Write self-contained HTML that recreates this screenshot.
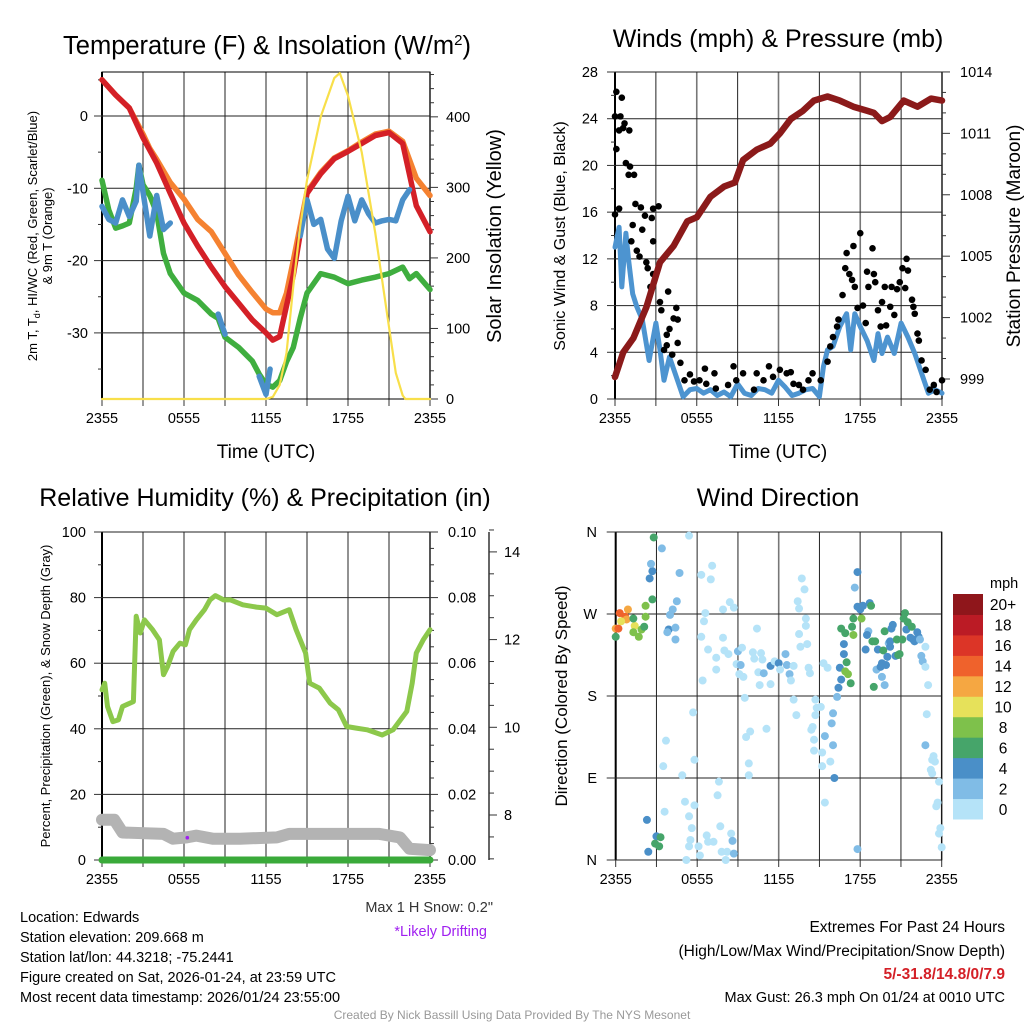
<!DOCTYPE html>
<html><head><meta charset="utf-8"><style>
html,body{margin:0;padding:0;background:#fff;}
svg{display:block;font-family:"Liberation Sans",sans-serif;}
</style></head><body>
<svg id="c" width="1024" height="1024" viewBox="0 0 1024 1024">
<rect width="1024" height="1024" fill="#fff"/>
<text x="267" y="54" font-size="25.5" text-anchor="middle">Temperature (F) &amp; Insolation (W/m<tspan dy="-9" font-size="15">2</tspan><tspan dy="9">)</tspan></text>
<text x="778" y="47" font-size="25" text-anchor="middle">Winds (mph) &amp; Pressure (mb)</text>
<text x="265" y="506" font-size="25" text-anchor="middle">Relative Humidity (%) &amp; Precipitation (in)</text>
<text x="778" y="506" font-size="25" text-anchor="middle">Wind Direction</text>
<text x="266" y="458" font-size="19" text-anchor="middle">Time (UTC)</text>
<text x="778" y="458" font-size="19" text-anchor="middle">Time (UTC)</text>
<text transform="translate(37,236) rotate(-90)" font-size="13" text-anchor="middle">2m T, T<tspan dy="3" font-size="9">d</tspan><tspan dy="-3">, HI/WC (Red, Green, Scarlet/Blue)</tspan></text>
<text transform="translate(52,236) rotate(-90)" font-size="13" text-anchor="middle">&amp; 9m T (Orange)</text>
<text transform="translate(501,236) rotate(-90)" font-size="20" text-anchor="middle">Solar Insolation (Yellow)</text>
<text transform="translate(565,236) rotate(-90)" font-size="16" text-anchor="middle">Sonic Wind &amp; Gust (Blue, Black)</text>
<text transform="translate(1020,236) rotate(-90)" font-size="19" text-anchor="middle">Station Pressure (Maroon)</text>
<text transform="translate(50,696) rotate(-90)" font-size="13" text-anchor="middle">Percent, Precipitation (Green), &amp; Snow Depth (Gray)</text>
<text transform="translate(567,696) rotate(-90)" font-size="17" text-anchor="middle">Direction (Colored By Speed)</text>
<g font-size="14.5">
<text x="20" y="922">Location: Edwards</text>
<text x="20" y="942">Station elevation: 209.668 m</text>
<text x="20" y="962">Station lat/lon: 44.3218; -75.2441</text>
<text x="20" y="982">Figure created on Sat, 2026-01-24, at 23:59 UTC</text>
<text x="20" y="1002">Most recent data timestamp: 2026/01/24 23:55:00</text>
</g>
<text x="493" y="912" font-size="14.5" text-anchor="end" fill="#333">Max 1 H Snow: 0.2"</text>
<text x="487" y="936" font-size="14.5" text-anchor="end" fill="#a020f0">*Likely Drifting</text>
<g font-size="15.5" text-anchor="end">
<text x="1005" y="932">Extremes For Past 24 Hours</text>
<text x="1005" y="956">(High/Low/Max Wind/Precipitation/Snow Depth)</text>
<text x="1005" y="979" fill="#d42027" font-weight="bold">5/-31.8/14.8/0/7.9</text>
<text x="1005" y="1002" font-size="14.5">Max Gust: 26.3 mph On 01/24 at 0010 UTC</text>
</g>
<text x="512" y="1019" font-size="12" text-anchor="middle" fill="#999">Created By Nick Bassill Using Data Provided By The NYS Mesonet</text>
</svg>
<script>
// ---- Temperature panel data ----
const redT=[0,1,2,3,4,5,6,7,8,9,10,11,12,12.5,13,14,15,16,17,18,19,20,21,22,23,24];
const redV=[5,2.9,1.1,-3,-6.5,-10.7,-14.8,-18,-20.9,-23.6,-25.9,-28.2,-30,-31,-30.5,-22,-10.7,-8,-5.9,-4.9,-3.8,-2.7,-2.3,-3.8,-12.4,-16];
const orangeT=[0,1,2,3,3.5,4,5,6,7,8,9,10,11,12,12.5,13,13.5,14,15,16,17,18,19,20,21,22,23,24];
const orangeV=[5,2.9,1.1,-2.5,-4.5,-6,-9.2,-11.5,-14.3,-16,-19,-22,-24.4,-26.7,-27.2,-27.2,-24.5,-20,-10.5,-7.8,-5.8,-4.8,-3.6,-2.5,-2.1,-3.5,-8.6,-11];
const greenT=[0,0.5,1,1.5,2,2.5,2.7,3,3.5,4,4.5,5,6,7,8,8.5,9,10,11,11.5,12,12.5,13,13.5,14,14.5,15,16,17,18,19,20,21,22,22.5,23,24];
const greenV=[-8.9,-13,-15.5,-15.2,-14.8,-10,-6.8,-9.5,-11,-13.4,-19,-21.8,-24.5,-25.5,-27.4,-28,-30.6,-32,-33.9,-35.7,-37.1,-37.5,-36.6,-34,-32,-28,-24.5,-21.8,-22.3,-23.2,-22.7,-22.3,-21.8,-20.9,-22.5,-21.8,-24];
const blueT=[0,0.5,1,1.5,2,2.5,2.7,3,3.5,4,4.5,5,5.2,8.5,9,9.5,11.5,12,12.3,12.5,14.5,15,15.5,16,16.5,17,17.5,18,18.5,19,19.5,20,20.5,21,21.5,22,22.5];
const blueV=[-12.5,-14.3,-14.8,-11.6,-13.9,-11.8,-6.8,-10.5,-16.6,-11,-15.7,-14.8,null,-27.4,-30.2,null,-36,-38.5,-35,null,-16.6,-11.6,-15,-14.3,-18.4,-19.7,-14.5,-11.1,-14.5,-11.6,-13.5,-14.8,-14.5,-14.3,-14.5,-11.6,-10.2];
const insT=[0,12,12.5,13,13.5,14,14.5,15,16,17,17.4,18,19,20,21,21.5,22,22.2,24];
const insV=[0,0,3,20,65,160,245,310,400,455,462,430,350,235,102,37,5,0,0];
const timeLabels=["2355","0555","1155","1755","2355"];
const tempTicks=[0,-10,-20,-30];
const insTicks=[0,100,200,300,400];
// ---- Wind panel data ----
const windT=[0,0.3,0.5,0.8,1,1.3,1.6,2,2.5,3,3.3,3.6,4,4.5,5,5.5,6,6.5,7,7.5,8,8.5,9,9.5,10,10.5,11,11.5,12,12.5,13,13.5,14,14.5,15,15.3,15.6,16,16.5,17,17.3,17.6,18,18.5,19,19.3,19.6,20,20.5,21,21.5,22,22.5,23,23.5,24];
const windV=[13,14.7,9.6,14.2,11.9,9,7.9,6.8,3.3,6.5,4.2,1.6,3.6,1.9,0.2,0.8,0.9,0.5,0.8,0.3,0.6,0.2,1.3,0.5,0.3,0.9,0.8,0.5,1.6,1,0.3,0.5,0.8,0.9,0.2,2.8,4.2,4.5,6.2,7.3,4.2,7.3,6.2,5,3.3,5.6,3.9,5.3,3.9,6.5,5.3,3.9,2.2,0.5,0.8,0.5];
const gustT=[0,0.1,0.3,0.4,0.5,0.7,0.6,1.05,0.1,0.8,1.1,1,1.4,0,0.3,1.5,1.9,2.8,3.2,1.3,2.2,2.7,2,1.2,1.6,1.8,2.8,2.3,2.4,2.6,2.8,3.3,3.4,3.9,4.5,4.3,4,4.6,3.8,4.6,3.8,3.6,4.2,4.8,5.1,5.5,5.8,6.2,6.6,6.7,7.3,7.4,8.3,8.7,8.9,9.4,10.2,10.4,10.9,11.3,11.6,12.1,12.6,12.9,13.1,13.5,13.8,14.2,14.5,15.1,15.6,15.8,16,16.3,16.4,16.7,16.9,17,17.2,17.4,17.5,17.6,17.8,18,18.2,18.4,18.5,18.9,19,19.1,18.6,19.3,19.5,19.6,19.8,19.9,20.2,20.3,20.5,20.7,20.9,21.1,21.3,21.4,21.5,21.8,21.9,22,22.2,22.3,22.5,22.8,23.1,23.4,23.6,24];
const gustV=[24.2,26.3,23,24.2,25.8,23.6,23.2,23,21.4,20.2,19.9,19.2,19.2,15.8,16.3,16.7,16.4,16.3,16.5,14.9,15.7,15.5,14.5,13.5,12.7,12.2,13.5,11.7,11.2,9.6,10.7,8.3,7.6,9.2,7.8,6.9,6,6.8,5.5,4.8,4.6,4.2,3.8,3.1,1.6,2.1,1.5,1.6,2.6,1.3,2.2,0.9,1.2,2.8,1.6,2.2,0.8,2.2,1.6,2.8,1.9,2.5,2.2,2.3,1.3,1.2,0.8,1.6,2.2,1.6,3.2,4.5,5.3,6.2,6.8,8.9,11.2,12.5,10.7,10.2,13.1,9.6,7.8,14.2,8,6.5,10.9,12.9,10.7,10,9.6,7.6,6.2,8.3,9.6,6.3,7.9,9.6,7.2,9.4,10,11.2,9.5,12,11,8.5,7.9,7.3,5.6,5,3.3,2.5,0.8,1.2,0.6,1.6];
const presT=[0,0.6,1.35,2.3,3.3,4.3,5.3,6,7,8,8.8,9.4,10.4,11.4,12.1,12.9,13.8,14.6,15.6,16.5,17.5,18.5,19,19.6,20.2,21.2,22.2,23.2,24];
const presV=[999.1,1000.3,1001,1002.5,1004.7,1005.5,1006.7,1006.9,1007.9,1008.4,1008.6,1009.7,1010.2,1010.5,1011,1011.7,1012.1,1012.6,1012.8,1012.6,1012.3,1012.1,1012,1011.6,1011.8,1012.6,1012.3,1012.7,1012.6];
const windTicks=[0,4,8,12,16,20,24,28];
const presTicks=[999,1002,1005,1008,1011,1014];
// ---- Humidity panel data ----
const rhT=[0,0.2,0.4,0.8,1.2,1.5,2.3,2.5,2.8,3.1,3.7,4.2,4.5,4.8,5.2,5.7,6.1,6.4,6.9,7.5,7.9,8.3,8.9,9.4,10.3,11.3,12,12.8,13.7,14.2,14.9,15.2,15.9,16.7,17.3,17.9,18.6,19.4,20.5,21.3,22.3,22.7,23,23.5,24];
const rhV=[51.9,53.9,46.8,42.2,42.7,46.8,48.3,74.3,69.2,73.2,70.2,67.1,56.5,59,63.6,66.1,65.6,70.2,73.2,76.3,79.3,80.6,79.3,79.3,77.8,77.1,76.8,74.8,76.3,70.2,63.1,53.9,52.4,47.8,45.8,40.7,40.2,39.7,38.1,39.7,45.3,53.9,63.1,67.1,70.2];
const snowT=[0,0.9,1.5,4.5,5.2,6.2,6.9,8.1,10.1,12.8,13.7,20.3,21.8,22.5,24];
const snowV=[7.89,7.89,7.6,7.57,7.46,7.49,7.53,7.46,7.46,7.49,7.57,7.57,7.49,7.23,7.2];
const precipT=[0,24];
const precipV=[0,0];
const rhTicks=[0,20,40,60,80,100];
const precipTicks=["0.00","0.02","0.04","0.06","0.08","0.10"];
const snowTicks=[8,10,12,14];
// ---- Wind direction data ----
const dirT=[0,0,0.2,0.3,0.7,0.9,0.8,0.4,1.4,1.3,1.3,1.7,1.9,2.1,2.2,2.2,2.7,2.5,2.7,2.6,2.8,3.4,2.3,2.4,3,2.9,3.2,3.3,3.9,3.8,4.4,4.4,4,4.2,4.5,4.7,5.4,3.7,3.5,3.6,4.9,5.1,5.4,5.7,5.8,5.8,5.6,5.5,5.4,5.2,6.2,6.1,6.7,6.8,7.2,7.7,7.5,7.6,7.8,8.2,8.1,8.5,8.6,8.7,6.3,7,7.1,6.6,6.5,6.3,6.8,7.4,7.4,6.4,7.9,7.9,8.4,8.7,8,8.3,9,9.3,8.9,9.2,9.1,9.4,9.5,9.6,9.9,9.8,9.8,10.4,10.1,10.2,10.7,10.5,10.6,10.8,10.9,11.4,11.1,11.4,11.7,12,12.1,12.5,12.6,12.8,12.9,13.1,13.1,13.3,13.4,13.5,13.7,13.9,14,14,13.5,13.6,14.1,14.2,14.3,14.7,14.8,15.1,14.7,14.4,14.5,14.6,14.6,15.2,15.2,15.4,15.3,15.6,15.4,15.8,15.9,16,16,16.1,16.3,16.4,16.6,16.5,16.8,16.8,16.6,16.9,17,17.1,16.9,17.3,17.4,17.5,17.5,17.6,17.8,17.8,17.8,18,18.1,18.2,18.6,18.5,18.4,18.7,18.8,18.9,19.1,19,19.2,19.5,19.6,19.3,19.6,19.8,19.7,19.9,20,20.1,20.2,20.2,19.8,20.3,20.4,20.6,20.7,20.8,20.9,21.1,21.2,21.3,21.4,21.5,21.7,21.8,21.9,22,22.2,22.3,22.4,22.5,22.6,22.8,22.8,22.9,22.8,23,23.3,23.4,23.5,23.2,23.3,23.8,23.7,23.6,23.9,23.8,24];
const dirV=[245,254,254,271,267,275,264,262,257,265,250,245,253,256,267,279,286,309,317,325,354,342,44,9,26,18,15,25,253,250,255,242,269,275,284,315,356,131,103,53,93,64,48,162,110,60,35,22,15,0,5,15,27,20,20,37,71,86,9,9,0,29,21,7,313,308,323,271,262,245,231,222,209,197,244,275,283,277,230,226,229,233,215,214,204,201,178,135,141,106,93,254,228,221,227,206,192,220,205,213,144,193,218,216,209,226,214,204,197,213,176,159,284,276,309,297,265,257,248,234,237,211,205,176,167,168,159,143,146,132,120,118,103,63,216,211,136,108,150,161,126,90,179,189,198,211,226,237,254,249,217,204,207,194,256,247,265,299,316,12,278,275,265,279,251,247,231,282,279,240,240,190,209,212,216,231,201,192,230,214,223,238,240,234,251,254,258,224,242,225,226,242,265,271,253,261,244,256,242,240,250,245,242,224,218,212,234,160,126,192,110,114,108,99,95,86,63,59,35,29,14];
const dirSpd=[7,13,15,15,15,13,13,11,11,7,9,9,9,7,9,9,7,5,5,3,7,3,5,5,5,7,7,7,5,3,3,3,3,3,3,3,1,1,1,1,1,1,1,1,1,1,1,1,1,1,1,1,1,1,1,1,1,1,1,1,1,1,3,3,1,1,1,1,1,1,1,1,1,1,1,1,1,1,1,1,3,1,1,3,1,1,1,1,1,1,1,1,1,1,1,1,1,1,3,5,1,1,1,5,1,3,3,3,1,1,1,1,1,1,1,1,1,1,1,1,1,1,1,1,1,1,1,1,1,1,1,1,1,1,1,1,3,1,3,3,3,5,3,5,5,5,5,5,7,7,7,9,9,7,7,9,7,3,5,3,5,5,9,5,3,5,5,5,7,7,7,7,3,5,5,5,3,3,7,5,5,3,5,5,7,5,5,5,7,7,7,7,7,7,5,7,5,7,5,5,5,5,3,3,3,1,1,1,3,1,1,1,1,1,1,1,1,1,1,1,1,1];
const dirLabels=["N","E","S","W","N"];
const speedBins=["0","2","4","6","8","10","12","14","16","18","20+"];
const binColors=["#b5e3f8","#80bce6","#4a8fc8","#46a56a","#7ec14b","#e6e15a","#f5a742","#ef622c","#dc3527","#bb1b25","#8f161b"];

const NS='http://www.w3.org/2000/svg';
const svg=document.getElementById('c');
function mk(tag,attrs,parent){const e=document.createElementNS(NS,tag);for(const k in attrs)e.setAttribute(k,attrs[k]);(parent||svg).appendChild(e);return e;}
function pathFrom(ts,vs,xf,yf){let d='',pen=false;for(let i=0;i<ts.length;i++){if(vs[i]===null){pen=false;continue;}d+=(pen?'L':'M')+xf(ts[i]).toFixed(1)+' '+yf(vs[i]).toFixed(1);pen=true;}return d;}

function frame(x0,y0,x1,y1,name){
  const g=mk('g',{});
  
  
  for(let i=0;i<=8;i++){const x=x0+(x1-x0)*i/8;const l=mk('line',{x1:x,y1:y0,x2:x,y2:y1,stroke:i%2?'#222':'#777','stroke-width':i%2?1:1.6},g);
    
    const t=mk('line',{x1:x,y1:y1,x2:x,y2:y1+7,stroke:'#333','stroke-width':1},g);}
  for(let i=0;i<timeLabels.length;i++){const t=mk('text',{x:x0+(x1-x0)*i/4,y:y1+24,'font-size':14.5,'text-anchor':'middle'},g);t.textContent=timeLabels[i];
    }
  const r=mk('rect',{x:x0,y:y0,width:x1-x0,height:y1-y0,fill:'none',stroke:'#000','stroke-width':1},g);
  
  mk('line',{x1:x0,y1:y0,x2:x0,y2:y1,stroke:'#000','stroke-width':2},g);
  return g;
}
function hgrid(g,x0,x1,y,tickLeft,label,lx,anchor,name){
  const l=mk('line',{x1:x0,y1:y,x2:x1,y2:y,stroke:'#222','stroke-width':1},g);
  if(label!==null){const t=mk('text',{x:lx,y:y+5,'font-size':14.5,'text-anchor':anchor},g);t.textContent=label;}
}
function ytick(g,x,y,len,label,lx,anchor,name){
  const l=mk('line',{x1:x,y1:y,x2:x+len,y2:y,stroke:'#333','stroke-width':1},g);
  if(label!==null){const t=mk('text',{x:lx,y:y+5,'font-size':14.5,'text-anchor':anchor},g);t.textContent=label;}
}
function line(d,color,w,name,cap){const p=mk('path',{d:d,fill:'none',stroke:color,'stroke-width':w,'stroke-linejoin':'round','stroke-linecap':cap||'round'});return p;}

// ---- Panel 1: temperature ----
const X1=102,X2=430,YT=72,YB=399;
const xT=h=>X1+h*(X2-X1)/24;
const yT=v=>116-v*7.23;
const yI=v=>YB-v*0.7054;
let g=frame(X1,YT,X2,YB,'temperature');
tempTicks.forEach(v=>{hgrid(g,X1,X2,yT(v),0,null);ytick(g,X1-8,yT(v),8,String(v),88,'end','temp-tick-label');});
[5,-5,-15,-25,-35].forEach(v=>ytick(g,X1-4,yT(v),4,null));
insTicks.forEach(v=>ytick(g,X2,yI(v),8,String(v),446,'start','insolation-tick-label'));
for(let v=20;v<=460;v+=20)if(v%100)ytick(g,X2,yI(v),4,null);
line(pathFrom(orangeT,orangeV,xT,yT),'#f58231',5.5,'orange-9m-temp-line');
line(pathFrom(redT,redV,xT,yT),'#d42027',5.5,'red-2m-temp-line');
line(pathFrom(greenT,greenV,xT,yT),'#3fae3f',5.5,'green-dewpoint-line');
line(pathFrom(blueT,blueV,xT,yT),'#4a8fc9',5.5,'blue-windchill-line');
line(pathFrom(insT,insV,xT,yI),'#f8df4a',2.2,'yellow-insolation-line');

// ---- Panel 2: winds ----
const W1=615,W2=942;
const xW=h=>W1+h*(W2-W1)/24;
const yW=v=>YB-v*(YB-YT)/28;
const yP=p=>379-(p-999)*20.47;
g=frame(W1,YT,W2,YB,'winds');
windTicks.forEach(v=>{hgrid(g,W1,W2,yW(v),0,null);ytick(g,W1-8,yW(v),8,String(v),598,'end','wind-tick-label');});
windTicks.forEach(v=>{if(v<28)ytick(g,W1-4,yW(v+2),4,null);});
presTicks.forEach(v=>ytick(g,W2,yP(v),8,String(v),960,'start','pressure-tick-label'));
for(let p=999;p<=1014;p++)if((p-999)%3)ytick(g,W2,yP(p),4,null);
line(pathFrom(windT,windV,xW,yW),'#4d94d0',5,'sonic-wind-line');
for(let i=0;i<gustT.length;i++){const c=mk('circle',{cx:xW(gustT[i]),cy:yW(gustV[i]),r:3.3,fill:'#000'});
  
  }
line(pathFrom(presT,presV,xW,yP),'#8b1a1a',6.5,'pressure-line');

// ---- Panel 3: humidity ----
const Y3T=532,Y3B=860;
const yR=v=>Y3B-v*(Y3B-Y3T)/100;
const yS=s=>815-(s-8)*43.85;
const yPr=p=>Y3B-p*(Y3B-Y3T)/0.1;
g=frame(X1,Y3T,X2,Y3B,'humidity');
rhTicks.forEach((v,i)=>{hgrid(g,X1,X2,yR(v),0,null);ytick(g,X1-8,yR(v),8,String(v),86,'end','rh-tick-label');
  ytick(g,X2,yR(v),8,precipTicks[i],448,'start','precip-tick-label');});
for(let v=10;v<100;v+=20){ytick(g,X1-4,yR(v),4,null);}
for(let v=5;v<100;v+=5)if(v%20)ytick(g,X2,yR(v),4,null);
const sa=mk('line',{x1:489,y1:Y3T,x2:489,y2:Y3B,stroke:'#333','stroke-width':1.5},g);

snowTicks.forEach(v=>ytick(g,489,yS(v),8,String(v),504,'start','snow-tick-label'));
for(let s=7;s<=14.5;s+=0.5)if(s%2)ytick(g,489,yS(s),5,null);
line(pathFrom(snowT,snowV,xT,yS),'#b3b3b3',12,'snow-depth-line');
line(pathFrom(precipT,precipV,xT,yPr),'#3aaa3a',7,'precipitation-line');
line(pathFrom(rhT,rhV,xT,yR),'#8cc84b',5,'relative-humidity-line');
const pd=mk('circle',{cx:187.3,cy:837.7,r:1.8,fill:'#a020f0'});


// ---- Panel 4: wind direction ----
const D1=615.7,D2=941.7;
const xD=h=>D1+h*(D2-D1)/24;
const yD=d=>Y3B-d*(Y3B-Y3T)/360;
g=frame(D1,Y3T,D2,Y3B,'direction');
dirLabels.forEach((lab,i)=>{const d=i*90;hgrid(g,D1,D2,yD(d),0,null);ytick(g,D1-9,yD(d),9,lab,597,'end','direction-tick-label');});
for(let i=0;i<dirT.length;i++){const b=Math.min(10,Math.floor(dirSpd[i]/2));
  const c=mk('circle',{cx:xD(dirT[i]),cy:yD(dirV[i]),r:4,fill:binColors[b]});
  
  }
const lg=mk('g',{});


const mt=mk('text',{x:990,y:588,'font-size':14.5},lg);mt.textContent='mph';

const bh=(819-594)/11;
for(let i=0;i<11;i++){const y=819-(i+1)*bh;
  const r=mk('rect',{x:953,y:y,width:30,height:bh+0.5,fill:binColors[i]},lg);
  
  const t=mk('text',{x:1003,y:y+bh/2+6,'font-size':15.5,'text-anchor':'middle'},lg);t.textContent=speedBins[i];
  }
</script>
</body></html>
